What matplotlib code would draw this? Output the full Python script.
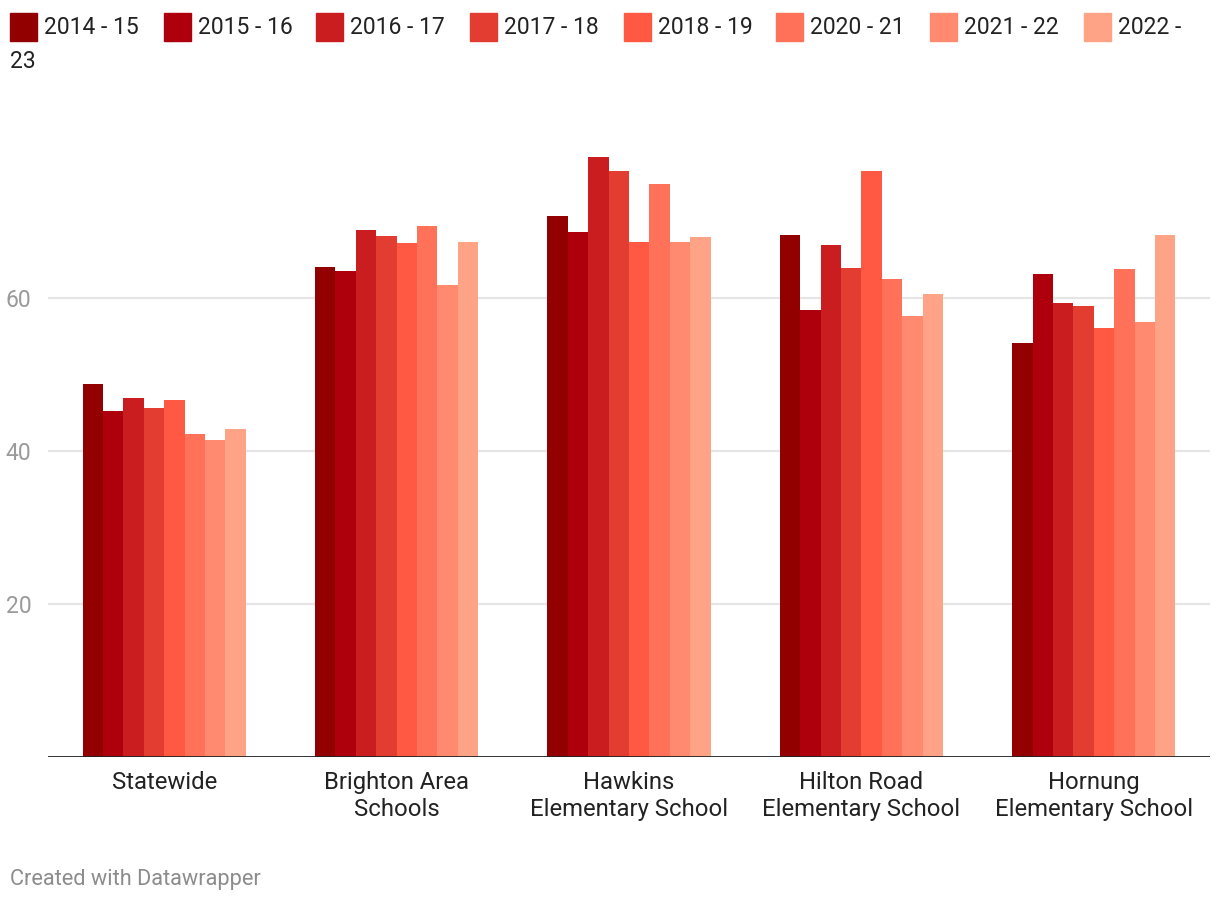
import numpy as np
import matplotlib.pyplot as plt
from matplotlib.patches import Rectangle

plt.rcParams['font.family'] = ['Roboto', 'DejaVu Sans']

categories = ["Statewide", "Brighton Area\nSchools", "Hawkins\nElementary School",
              "Hilton Road\nElementary School", "Hornung\nElementary School"]
years = ["2014 - 15", "2015 - 16", "2016 - 17", "2017 - 18",
         "2018 - 19", "2020 - 21", "2021 - 22", "2022 - 23"]
colors = ["#930000", "#ae000c", "#c91d1f", "#e33d31",
          "#ff5944", "#ff7259", "#ff8a70", "#ffa387"]

# one list per school year, values in category order
v_2014 = [48.8, 64.0, 70.7, 68.2, 54.1]
v_2015 = [45.2, 63.5, 68.6, 58.4, 63.1]
v_2016 = [46.9, 68.9, 78.4, 66.9, 59.3]
v_2017 = [45.6, 68.1, 76.6, 63.9, 59.0]
v_2018 = [46.7, 67.2, 67.3, 76.6, 56.1]
v_2020 = [42.2, 69.4, 74.9, 62.5, 63.8]
v_2021 = [41.4, 61.7, 67.3, 57.6, 56.9]
v_2022 = [42.9, 67.3, 68.0, 60.5, 68.2]
series = [v_2014, v_2015, v_2016, v_2017, v_2018, v_2020, v_2021, v_2022]

W, H = 1220, 906
fig = plt.figure(figsize=(W / 100, H / 100), dpi=100)
ax = fig.add_axes([48 / W, 1 - 757 / H, (1210 - 48) / W, (757 - 145) / H])

x = np.arange(len(categories))
bw = 0.7025 / len(series)
for i, vals in enumerate(series):
    ax.bar(x - 0.7025 / 2 + bw * (i + 0.5), vals, width=bw, color=colors[i],
           linewidth=0, zorder=3)

ax.set_xlim(-0.5, len(categories) - 0.5)
ax.set_ylim(0, 80)
ax.set_yticks([20, 40, 60])
ax.yaxis.grid(True, color="#e5e5e5", linewidth=1.6, zorder=0)
ax.axhline(0, color="#222222", linewidth=2, zorder=4)
for s in ax.spines.values():
    s.set_visible(False)
ax.tick_params(axis="y", length=0, pad=12, labelsize=16.5, labelcolor="#9a9a9a")
ax.tick_params(axis="x", length=0, pad=10, labelsize=17.2, labelcolor="#222222")
ax.set_xticks(x)
ax.set_xticklabels(categories, linespacing=1.25)


def px(xp, yp):
    return xp / W, 1 - yp / H


# legend drawn by hand, it wraps onto a second line
sq_x = [10, 164, 316, 470, 624, 776, 930, 1084]
for i, lab in enumerate(years):
    x0, y0 = px(sq_x[i], 41)
    fig.patches.append(Rectangle((x0, y0), 27 / W, 28 / H, color=colors[i],
                                 transform=fig.transFigure, figure=fig))
    txt = lab if i < len(years) - 1 else "2022 -"
    fig.text(*px(sq_x[i] + 34, 27), txt, fontsize=16.5, color="#222222",
             va="center", ha="left")
fig.text(*px(10, 62), "23", fontsize=16.5, color="#222222", va="center", ha="left")

fig.text(*px(10, 880), "Created with Datawrapper", fontsize=15.7, color="#8c8c8c",
         va="center", ha="left")

fig.savefig("out.png", dpi=100)
